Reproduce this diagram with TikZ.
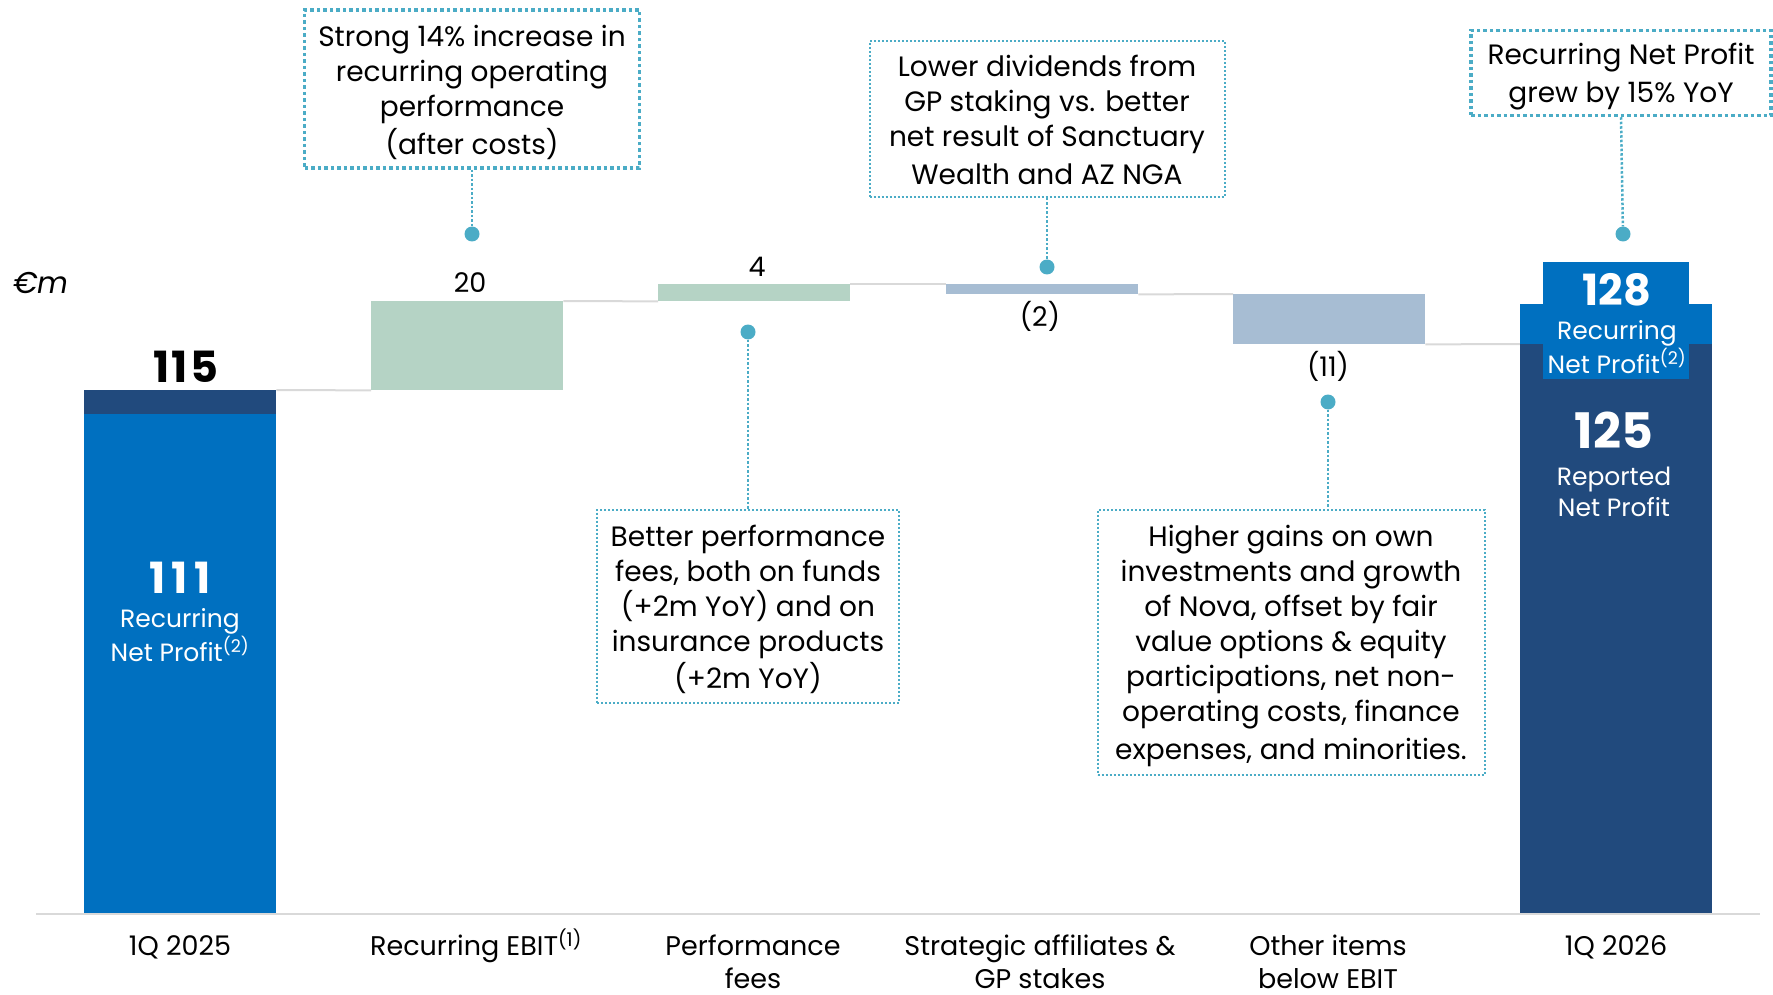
\documentclass[tikz,border=0pt]{standalone}
\usepackage{fontspec}
\setmainfont{Poppins}
\usetikzlibrary{backgrounds}
\definecolor{lblue}{HTML}{0070C0}
\definecolor{dblue}{HTML}{214A7D}
\definecolor{cgreen}{HTML}{B5D3C5}
\definecolor{cgrey}{HTML}{A7BDD3}
\definecolor{cyanc}{HTML}{4BACC6}
\definecolor{lgray}{HTML}{D9D9D9}
\newcommand\cs{\rule[-6pt]{0pt}{35pt}}
\newcommand\ks{\rule{0pt}{27pt}}
\newcommand\ws{\rule[-7pt]{0pt}{31pt}}
\begin{document}
\begin{tikzpicture}[x=1pt,y=-1pt,
  bar/.style={fill=#1, draw=none, inner sep=0pt, anchor=north west},
  stepline/.style={draw=lgray, line width=2pt},
  dotc/.style={circle, fill=cyanc, inner sep=0pt, minimum size=15pt},
  callthick/.style={draw=cyanc, line width=3.5pt, dash pattern=on 3.5pt off 3pt, align=center, inner sep=0pt, font=\fontsize{28}{35}\selectfont},
  callthin/.style={draw=cyanc, line width=2pt, dash pattern=on 2pt off 2pt, align=center, inner sep=0pt, font=\fontsize{28}{35}\selectfont},
  leader/.style={draw=cyanc, line width=2.5pt, dash pattern=on 2.5pt off 2pt},
  val/.style={font=\fontsize{27}{30}\selectfont, inner sep=0pt},
  big/.style={font=\fontsize{43}{45}\selectfont\bfseries, inner sep=0pt},
  bigger/.style={font=\fontsize{49}{50}\selectfont\bfseries, inner sep=0pt, text=white},
  wlab/.style={font=\fontsize{25}{31}\selectfont, align=center, inner sep=0pt, text=white},
  cat/.style={font=\fontsize{27}{33}\selectfont, align=center, inner sep=0pt, anchor=north}]
\useasboundingbox (0,0) rectangle (1773,995);

% bars
\node[bar=lblue, minimum width=192pt, minimum height=524pt] (b1) at (84,390) {};
\node[bar=dblue, minimum width=192pt, minimum height=24pt] (b1top) at (84,390) {};
\node[bar=cgreen, minimum width=192pt, minimum height=89pt] (b2) at (371,301) {};
\node[bar=cgreen, minimum width=192pt, minimum height=17pt] (b3) at (658,284) {};
\node[bar=cgrey, minimum width=192pt, minimum height=10pt] (b4) at (946,284) {};
\node[bar=cgrey, minimum width=192pt, minimum height=50pt] (b5) at (1233,294) {};
\node[bar=lblue, minimum width=192pt, minimum height=610pt] (b6) at (1520,304) {};
\node[bar=dblue, minimum width=192pt, minimum height=570pt] (b6dark) at (1520,344) {};
\node[bar=lblue, minimum width=146pt, minimum height=117pt] (b6lab) at (1543,262) {};

% step connectors and axis
\begin{scope}[on background layer]
\draw[stepline] (b1.north east) -- (b2.south west);
\draw[stepline] (b2.north east) -- (b3.south west);
\draw[stepline] (b3.north east) -- (b4.north west);
\draw[stepline] (b4.south east) -- (b5.north west);
\draw[stepline] (b5.south east) -- (b6dark.north west);
\end{scope}
\coordinate (axL) at (36,914);
\coordinate (axR) at (1760,914);
\draw[stepline] (axL) -- (axR);

% value labels
\node[font=\fontsize{30}{32}\selectfont\itshape, inner sep=0pt] (unit) at (41,283) {€m};
\node[big] (v1) at (186,367) {\addfontfeature{LetterSpace=5}115};
\node[val] (v2) at (470,283) {20};
\node[val] (v3) at (757,267) {4};
\node[val] (v4) at (1040,316) {(2)};
\node[val] (v5) at (1328,366) {(11)};

% bar texts
\node[big, text=white] (n111) at (180,578) {\addfontfeature{LetterSpace=15}111};
\node[wlab] (n111t) at (180,636) {\ws Recurring\\Net Profit\textsuperscript{(2)}\ws};
\node[big, text=white] (n128) at (1617,290) {128};
\node[wlab] (n128t) at (1617,348) {\ws Recurring\\Net Profit\textsuperscript{(2)}\ws};
\node[bigger] (n125) at (1614,430) {125};
\node[wlab] (n125t) at (1614,492) {\ws Reported\\Net Profit\ws};

% dots
\node[dotc] (d1) at (472,234) {};
\node[dotc] (d2) at (748,332) {};
\node[dotc] (d3) at (1047,267) {};
\node[dotc] (d4) at (1328,402) {};
\node[dotc] (d5) at (1623,234) {};

% callouts
\node[callthick, minimum width=335pt, minimum height=158pt] (c1) at (472,89)
  {\cs Strong 14\% increase in\\recurring operating\\performance\\(after costs)\cs};
\node[callthin, minimum width=302pt, minimum height=193pt] (c2) at (748,606)
  {\cs Better performance\\fees, both on funds\\(+2m YoY) and on\\insurance products\\(+2m YoY)\cs};
\node[callthin, minimum width=355pt, minimum height=156pt] (c3) at (1047,119)
  {\cs Lower dividends from\\GP staking vs. better\\net result of Sanctuary\\Wealth and AZ NGA\cs};
\node[callthin, minimum width=387pt, minimum height=265pt] (c4) at (1291,642)
  {\cs Higher gains on own\\investments and growth\\of Nova, offset by fair\\value options \& equity\\participations, net non-\\operating costs, finance\\expenses, and minorities.\cs};
\node[callthick, minimum width=300pt, minimum height=85pt] (c5) at (1621,73)
  {\cs Recurring Net Profit\\grew by 15\% YoY\cs};

% leaders
\draw[leader] (c1.south) -- (d1);
\draw[leader] (d2) -- (c2.north);
\draw[leader] (c3.south) -- (d3);
\draw[leader] (d4) -- (d4 |- c4.north);
\draw[leader] (c5.south) -- (d5);

% categories
\node[cat] (k1) at (180,928) {\ks 1Q 2025};
\node[cat] (k2) at (476,928) {\ks Recurring EBIT\textsuperscript{(1)}};
\node[cat] (k3) at (753,928) {\ks Performance\\fees};
\node[cat] (k4) at (1040,928) {\ks Strategic affiliates \&\\GP stakes};
\node[cat] (k5) at (1328,928) {\ks Other items\\below EBIT};
\node[cat] (k6) at (1616,928) {\ks 1Q 2026};
\end{tikzpicture}
\end{document}
